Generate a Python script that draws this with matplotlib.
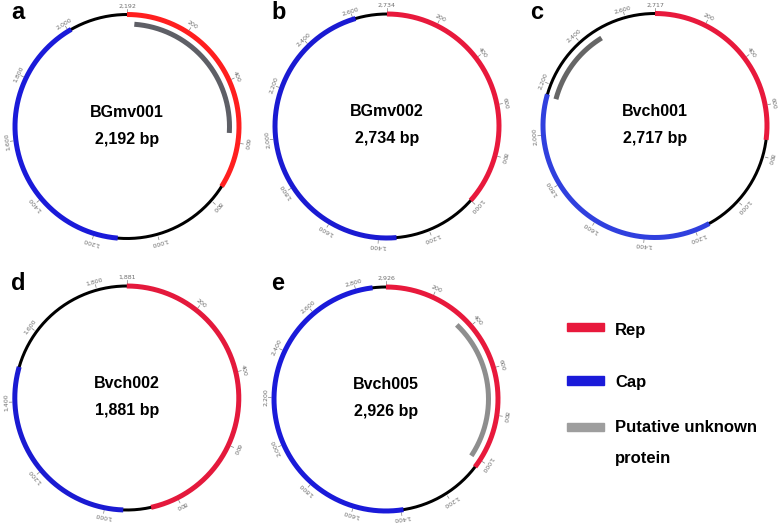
import numpy as np
import matplotlib
matplotlib.use("Agg")
import matplotlib.pyplot as plt
from matplotlib.patches import Rectangle

# ---------------- data ----------------
panel_letters = ["a", "b", "c", "d", "e"]
names = ["BGmv001", "BGmv002", "Bvch001", "Bvch002", "Bvch005"]
lengths = [2192, 2734, 2717, 1881, 2926]
rep_start = [0, 0, 0, 0, 0]
rep_end = [745, 1000, 735, 875, 1035]
cap_start = [1125, 1330, 1140, 950, 1390]
cap_end = [2010, 2610, 2160, 1495, 2870]
unk_start = [25, None, 2150, None, 355]
unk_end = [570, None, 2480, None, 1005]
tick_step = 200
legend_labels = ["Rep", "Cap", "Putative unknown\nprotein"]

# ---------------- style / layout ----------------
W, H = 778, 525
centers = [(127, 126.5), (387, 126), (655, 125.5), (126.8, 398), (386, 399)]
R_PX = 112.0
RMAX = 1.3
rep_colors = ["#FF1F1F", "#E8193C", "#E8193C", "#E4193C", "#E8193C"]
cap_colors = ["#1A1AD9", "#1A1AD2", "#3040DE", "#1A1AD2", "#1A1AD9"]
unk_colors = ["#5E5F66", None, "#666666", None, "#8E8E8E"]
letter_pos = [(11, 19), (271, 19), (530, 19), (11, 290), (271, 290)]

fig = plt.figure(figsize=(W / 100, H / 100), dpi=100)
BOLD = dict(family=["Liberation Sans", "DejaVu Sans"], fontweight="bold")

PT = 0.72  # points per pixel at 100 dpi


def arc(ax, s, e, L, r, color, lw):
    th = np.linspace(s, e, 500) / L * 2 * np.pi
    ax.plot(th, np.full_like(th, r), color=color, lw=lw * PT,
            solid_capstyle="butt", zorder=3)


for i in range(5):
    cx, cy = centers[i]
    half = R_PX * RMAX
    ax = fig.add_axes([(cx - half) / W, 1 - (cy + half) / H, 2 * half / W, 2 * half / H],
                      projection="polar")
    ax.set_theta_zero_location("N")
    ax.set_theta_direction(-1)
    ax.set_ylim(0, RMAX)
    ax.set_axis_off()
    L = lengths[i]
    # backbone
    arc(ax, 0, L, L, 1.0, "black", 3)
    arc(ax, rep_start[i], rep_end[i], L, 1.0, rep_colors[i], 5)
    arc(ax, cap_start[i], cap_end[i], L, 1.0, cap_colors[i], 5)
    if unk_start[i] is not None:
        arc(ax, unk_start[i], unk_end[i], L, 1.0 - 9.5 / R_PX, unk_colors[i], 5)
    # ticks
    ticks = list(range(tick_step, L, tick_step)) + [L]
    for t in ticks:
        th = (t % L) / L * 2 * np.pi
        ax.plot([th, th], [1.025, 1.05], color="#808080", lw=0.5, zorder=2)
        ax.text(th, 1.075, f"{t:,}", rotation=-np.degrees(th), rotation_mode="anchor",
                ha="center", va="center", fontsize=4.5, color="#6E6E6E",
                family="DejaVu Sans")
    # centre text
    ax.text(0, 9.6 / R_PX, names[i], ha="center", va="baseline", fontsize=11.5, **BOLD)
    ax.text(np.pi, 17 / R_PX, f"{L:,} bp", ha="center", va="baseline", fontsize=11.5, **BOLD)

# overlay axes in pixel coordinates for letters and legend
ov = fig.add_axes([0, 0, 1, 1])
ov.set_xlim(0, W)
ov.set_ylim(H, 0)
ov.set_axis_off()
for (x, y), lt in zip(letter_pos, panel_letters):
    ov.text(x, y, lt, fontsize=17, ha="left", va="baseline", **BOLD)

leg_colors = ["#E8193C", "#1A1AD9", "#9E9E9E"]
leg_y = [327, 380.5, 427]
leg_text_y = [335, 386.5, 432.3]
line_gap = 31
for lab, col, y, ty in zip(legend_labels, leg_colors, leg_y, leg_text_y):
    ov.add_patch(Rectangle((567, y - 4.3), 37, 8.6, color=col))
    for k, line in enumerate(lab.split("\n")):
        ov.text(615, ty + k * line_gap, line, fontsize=12, ha="left", va="baseline", **BOLD)

fig.savefig("out.png", dpi=100)
